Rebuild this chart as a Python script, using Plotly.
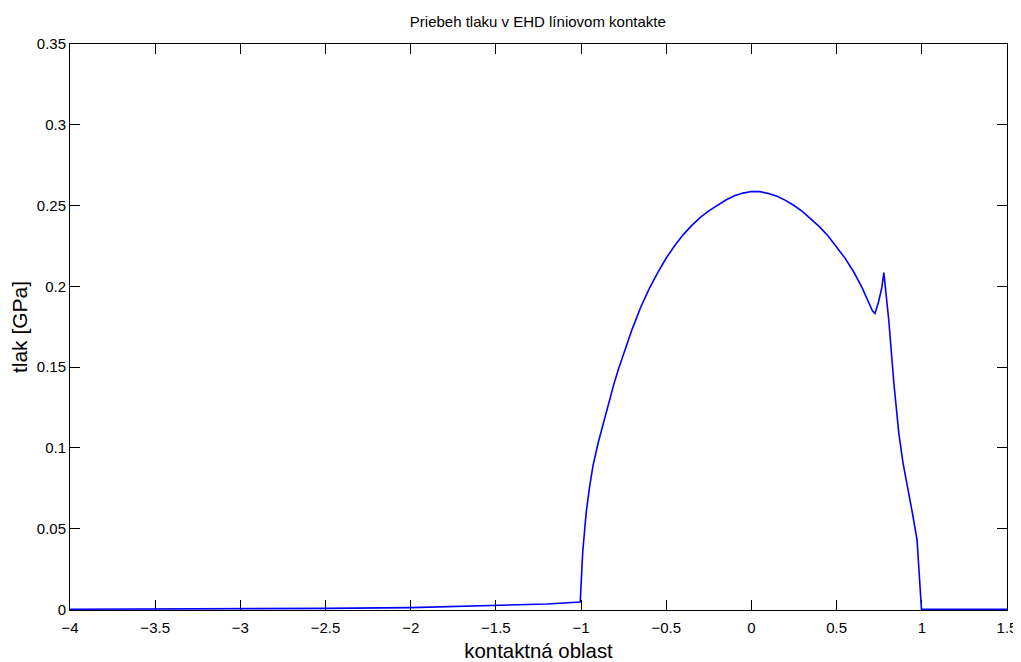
import plotly.graph_objects as go

# contact coordinate (dimensionless) and pressure [GPa]
x_pts = [-4.0, -3.5, -3.0, -2.5, -2.0, -1.5, -1.2, -1.005,
         -1.0, -0.995, -0.99, -0.98, -0.97, -0.95, -0.93, -0.90, -0.87,
         -0.84, -0.81, -0.78, -0.75, -0.70, -0.65, -0.60, -0.55, -0.50,
         -0.45, -0.40, -0.35, -0.30, -0.25, -0.20, -0.15, -0.10, -0.05,
         0.0, 0.05, 0.10, 0.15, 0.20, 0.25, 0.30, 0.35, 0.40, 0.45,
         0.50, 0.55, 0.60, 0.65, 0.69, 0.71, 0.725, 0.745, 0.765, 0.777,
         0.806, 0.836, 0.865, 0.89, 0.945, 0.972, 0.998, 1.5]
p_pts = [0.0001, 0.0002, 0.0003, 0.0006, 0.0011, 0.0022, 0.0033, 0.0045,
         0.012, 0.026, 0.036, 0.050, 0.060, 0.076, 0.089, 0.103, 0.115,
         0.1275, 0.1385, 0.149, 0.1585, 0.1735, 0.187, 0.1985, 0.2085, 0.2175,
         0.2253, 0.232, 0.2377, 0.2426, 0.2467, 0.2502, 0.2534, 0.256, 0.2577,
         0.2587, 0.2586, 0.2575, 0.2557, 0.2532, 0.250, 0.2462, 0.2418, 0.2368, 0.2312,
         0.2245, 0.2173, 0.209, 0.199, 0.1895, 0.1848, 0.1832, 0.190, 0.199, 0.2085,
         0.179, 0.140, 0.109, 0.0904, 0.0595, 0.043, 0.0, 0.0]

x_ticks = [-4, -3.5, -3, -2.5, -2, -1.5, -1, -0.5, 0, 0.5, 1, 1.5]
x_labels = ["−4", "−3.5", "−3", "−2.5", "−2", "−1.5", "−1", "−0.5", "0", "0.5", "1", "1.5"]
y_ticks = [0, 0.05, 0.1, 0.15, 0.2, 0.25, 0.3, 0.35]
y_labels = ["0", "0.05", "0.1", "0.15", "0.2", "0.25", "0.3", "0.35"]

FONT = "Liberation Sans, Arial, Helvetica, sans-serif"

fig = go.Figure()
fig.add_trace(go.Scatter(
    x=x_pts, y=p_pts, mode="lines",
    line=dict(color="#0000ff", width=1.6),
    showlegend=False,
))

axis_style = dict(
    showgrid=False, zeroline=False, automargin=False,
    showline=True, linecolor="black", linewidth=1, mirror="ticks",
    ticks="inside", ticklen=10, tickcolor="black", tickwidth=1,
    tickfont=dict(family=FONT, size=15, color="black"),
    layer="below traces",
)

fig.update_xaxes(
    range=[-4, 1.5], tickvals=x_ticks, ticktext=x_labels, ticklabelstandoff=4,
    title=dict(text="kontaktná oblast", font=dict(family=FONT, size=20.4, color="black"), standoff=9),
    **axis_style,
)
fig.update_yaxes(
    range=[-0.0004, 0.35], tickvals=y_ticks, ticktext=y_labels,
    title=dict(text="tlak [GPa]", font=dict(family=FONT, size=21, color="black"), standoff=6),
    **axis_style,
)

# page body has an 8px margin, so the figure is made 8px smaller each way
fig.update_layout(
    width=1013, height=654,
    margin=dict(l=62, r=14, t=36, b=52),
    paper_bgcolor="white", plot_bgcolor="white",
    title=dict(text="Priebeh tlaku v EHD líniovom kontakte", x=0.523, xanchor="center",
               y=0.9786, yanchor="middle", font=dict(family=FONT, size=15, color="black")),
    font=dict(family=FONT, color="black"),
)

fig.write_html("out.html")
